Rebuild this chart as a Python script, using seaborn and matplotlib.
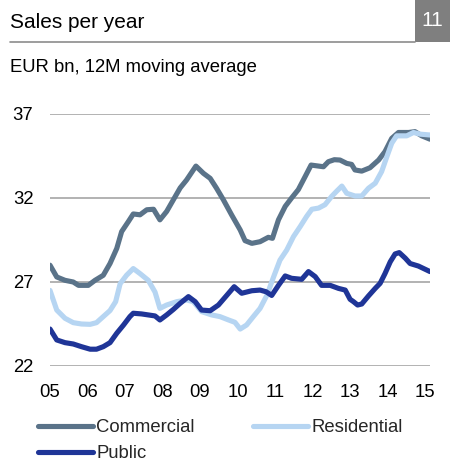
import numpy as np
import pandas as pd
import matplotlib
matplotlib.use("Agg")
import matplotlib.pyplot as plt
from matplotlib.lines import Line2D
import seaborn as sns

# Sales per year, EUR bn, 12-month moving average
commercial_t = [2005.0, 2005.18, 2005.4, 2005.62, 2005.76, 2006.02, 2006.2, 2006.42, 2006.6,
                2006.78, 2006.91, 2007.09, 2007.22, 2007.4, 2007.58, 2007.76, 2007.93, 2008.11,
                2008.29, 2008.47, 2008.64, 2008.89, 2009.09, 2009.27, 2009.44, 2009.62, 2009.84,
                2010.07, 2010.2, 2010.38, 2010.6, 2010.82, 2010.93, 2011.09, 2011.27, 2011.44,
                2011.62, 2011.8, 2011.96, 2012.16, 2012.29, 2012.42, 2012.58, 2012.73, 2012.91,
                2013.04, 2013.13, 2013.31, 2013.53, 2013.76, 2013.93, 2014.11, 2014.29, 2014.56,
                2014.73, 2014.91, 2015.13]
commercial_v = [28.0, 27.3, 27.1, 27.0, 26.8, 26.8, 27.1, 27.4, 28.1,
                29.0, 30.0, 30.6, 31.05, 31.0, 31.3, 31.33, 30.7, 31.2,
                31.9, 32.6, 33.07, 33.9, 33.47, 33.17, 32.58, 31.9, 31.0,
                30.1, 29.46, 29.3, 29.4, 29.66, 29.6, 30.7, 31.5, 32.0,
                32.5, 33.27, 33.96, 33.9, 33.86, 34.16, 34.28, 34.26, 34.06,
                34.0, 33.67, 33.6, 33.8, 34.26, 34.76, 35.55, 35.9, 35.9,
                35.95, 35.7, 35.5]

residential_t = [2005.0, 2005.18, 2005.4, 2005.62, 2005.84, 2006.07, 2006.24, 2006.42, 2006.6,
                 2006.75, 2006.87, 2007.04, 2007.22, 2007.4, 2007.62, 2007.8, 2007.93, 2008.11,
                 2008.38, 2008.64, 2008.82, 2009.04, 2009.31, 2009.53, 2009.76, 2009.93, 2010.07,
                 2010.24, 2010.42, 2010.6, 2010.78, 2010.96, 2011.13, 2011.31, 2011.49, 2011.67,
                 2011.84, 2011.98, 2012.16, 2012.33, 2012.51, 2012.64, 2012.78, 2012.91, 2013.13,
                 2013.31, 2013.49, 2013.67, 2013.84, 2013.98, 2014.11, 2014.24, 2014.51, 2014.69,
                 2014.87, 2015.13]
residential_v = [26.5, 25.33, 24.84, 24.58, 24.5, 24.48, 24.58, 24.94, 25.3,
                 25.83, 26.9, 27.4, 27.8, 27.5, 27.1, 26.4, 25.43, 25.63,
                 25.83, 25.93, 25.83, 25.24, 25.04, 24.94, 24.74, 24.6, 24.2,
                 24.44, 24.94, 25.43, 26.2, 27.3, 28.3, 28.9, 29.7, 30.3,
                 30.9, 31.33, 31.4, 31.6, 32.1, 32.4, 32.71, 32.28, 32.12,
                 32.12, 32.58, 32.88, 33.57, 34.46, 35.26, 35.7, 35.7, 35.9,
                 35.8, 35.75]

public_t = [2005.0, 2005.18, 2005.4, 2005.62, 2005.84, 2006.07, 2006.24, 2006.42, 2006.6,
            2006.78, 2006.96, 2007.13, 2007.22, 2007.44, 2007.62, 2007.8, 2007.93, 2008.11,
            2008.29, 2008.47, 2008.69, 2008.87, 2009.04, 2009.27, 2009.49, 2009.71, 2009.91,
            2010.11, 2010.38, 2010.6, 2010.76, 2010.91, 2011.09, 2011.27, 2011.44, 2011.71,
            2011.89, 2012.07, 2012.24, 2012.47, 2012.69, 2012.87, 2013.0, 2013.09, 2013.2,
            2013.31, 2013.49, 2013.67, 2013.8, 2013.93, 2014.07, 2014.2, 2014.31, 2014.47,
            2014.6, 2014.82, 2015.13]
public_v = [24.2, 23.55, 23.39, 23.31, 23.15, 23.0, 23.0, 23.15, 23.39,
            23.95, 24.44, 24.94, 25.14, 25.1, 25.04, 24.98, 24.74, 25.04,
            25.37, 25.73, 26.13, 25.83, 25.33, 25.29, 25.63, 26.2, 26.72,
            26.33, 26.48, 26.52, 26.42, 26.2, 26.8, 27.36, 27.22, 27.16,
            27.62, 27.32, 26.8, 26.8, 26.62, 26.52, 25.97, 25.83, 25.63,
            25.69, 26.17, 26.62, 26.92, 27.5, 28.2, 28.67, 28.75, 28.42,
            28.1, 27.95, 27.62]

year_ticks = [2005, 2006, 2007, 2008, 2009, 2010, 2011, 2012, 2013, 2014, 2015]
year_labels = ["05", "06", "07", "08", "09", "10", "11", "12", "13", "14", "15"]
value_ticks = [22, 27, 32, 37]

series = ["Commercial", "Residential", "Public"]
colors = {"Commercial": "#5a7389", "Residential": "#b6d5f2", "Public": "#1f3597"}

df = pd.concat([
    pd.DataFrame({"t": commercial_t, "v": commercial_v, "series": "Commercial"}),
    pd.DataFrame({"t": residential_t, "v": residential_v, "series": "Residential"}),
    pd.DataFrame({"t": public_t, "v": public_v, "series": "Public"}),
], ignore_index=True)

sns.set_style("white")
plt.rcParams["font.family"] = ["Liberation Sans", "DejaVu Sans"]

W, H = 450, 459
fig = plt.figure(figsize=(W / 100, H / 100), dpi=100)
ax = fig.add_axes([50 / W, 1 - 366 / H, 380 / W, (366 - 114) / H])

lw = 3.7
sns.lineplot(data=df, x="t", y="v", hue="series", hue_order=series, palette=colors,
             sort=False, estimator=None, linewidth=lw, legend=False, ax=ax,
             solid_capstyle="round", solid_joinstyle="round", zorder=3)

ax.set_xlim(2005.0, 2015.13)
ax.set_ylim(22, 37)
ax.set_xticks(year_ticks)
ax.set_xticklabels(year_labels)
ax.set_yticks(value_ticks)
ax.set_xlabel("")
ax.set_ylabel("")
ax.grid(axis="y", color="#a6a6a6", linewidth=1.2)
ax.grid(axis="x", visible=False)
ax.set_axisbelow(True)
for s in ax.spines.values():
    s.set_visible(False)
ax.tick_params(axis="both", length=0, labelsize=13.3, colors="#000000")
ax.tick_params(axis="y", pad=12)
ax.tick_params(axis="x", pad=13)

# Header
fig.text(10 / W, 1 - 22 / H, "Sales per year", fontsize=15, va="center", ha="left", color="#000000")
fig.add_artist(Line2D([10 / W, 415 / W], [1 - 42 / H, 1 - 42 / H], color="#8c8c8c", linewidth=1.2))
fig.add_artist(plt.Rectangle((415 / W, 1 - 42 / H), 35 / W, 42 / H, facecolor="#7f7f7f",
                             edgecolor="none", transform=fig.transFigure))
fig.text(432 / W, 1 - 21 / H, "11", fontsize=15, va="center", ha="center", color="white")
fig.text(10 / W, 1 - 68 / H, "EUR bn, 12M moving average", fontsize=13.3, va="center",
         ha="left", color="#000000")

# Legend: first column Commercial / Public, second column Residential
order = ["Commercial", "Public", "Residential"]
handles = [Line2D([0], [0], color=colors[n], linewidth=lw, solid_capstyle="round") for n in order]
fig.legend(handles, order, loc="upper left", bbox_to_anchor=(38 / W, 1 - 419 / H),
           ncol=2, frameon=False, fontsize=13.3, handlelength=3.0, handletextpad=0.15,
           columnspacing=3.15, labelspacing=0.5, borderpad=0, borderaxespad=0)

fig.savefig("out.png", dpi=100)
